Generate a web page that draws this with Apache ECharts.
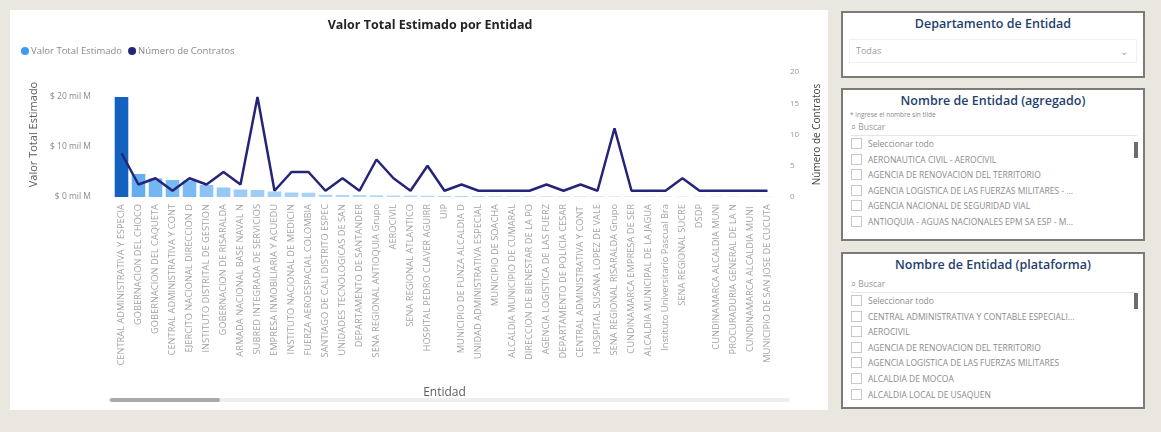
<!DOCTYPE html>
<html>
<head>
<meta charset="utf-8">
<script src="https://cdn.jsdelivr.net/npm/echarts@6/dist/echarts.min.js"></script>
<style>
  html, body { margin: 0; padding: 0; width: 1161px; height: 432px; background: #e9e7df; overflow: hidden; font-family: "Open Sans", "Noto Sans", sans-serif; }
  #card { position: absolute; left: 10px; top: 10px; width: 818px; height: 400px; background: #fff; }
  #chart { position: absolute; left: 0; top: 0; width: 830px; height: 432px; }
  .panel { position: absolute; left: 841px; width: 304px; background: #fff; border: 2px solid #7b7b78; box-sizing: border-box; }
  .ptitle { text-align: center; color: #1f3f6e; font-weight: 600; font-size: 12.5px; margin-top: 2px; }
  .drop { position: absolute; left: 6px; right: 6px; top: 26px; height: 22px; border: 1px solid #f0f0f0; font-size: 9px; color: #9a9a9a; line-height: 22px; padding-left: 6px; }
  .chev { position: absolute; right: 8px; top: 0px; font-size: 10px; color: #aaa; }
  .hint { font-size: 6.5px; color: #888; margin-left: 7px; margin-top: 1px; }
  .search { font-size: 8.5px; color: #9a9a9a; margin: 2px 6px 0 8px; padding-bottom: 2px; border-bottom: 1px solid #e6e6e6; }
  .item { font-size: 8.5px; color: #8c8c8c; height: 15.6px; line-height: 15px; margin-left: 8px; white-space: nowrap; overflow: hidden; width: 284px; }
  .cb { display: inline-block; width: 9px; height: 9px; border: 1px solid #c8c8c8; vertical-align: -2px; margin-right: 6px; }
  .sb { position: absolute; right: 5px; width: 4px; height: 16px; background: #6d6d6d; }
</style>
</head>
<body>
<div id="card"></div>
<div id="chart"></div>

<div class="panel" style="top:11px;height:67px;">
  <div class="ptitle">Departamento de Entidad</div>
  <div class="drop">Todas<span class="chev">&#8964;</span></div>
</div>

<div class="panel" style="top:88px;height:153px;">
  <div class="ptitle">Nombre de Entidad (agregado)</div>
  <div class="hint">* ingrese el nombre sin tilde</div>
  <div class="search">&#x2315; Buscar</div>
  <div class="sb" style="top:52px;"></div>
  <div id="list1"></div>
</div>

<div class="panel" style="top:252px;height:157px;">
  <div class="ptitle">Nombre de Entidad (plataforma)</div>
  <div class="search" style="margin-top:5px;">&#x2315; Buscar</div>
  <div class="sb" style="top:39px;"></div>
  <div id="list2"></div>
</div>

<script>
// ---- Data ----
const categories = [
  "CENTRAL ADMINISTRATIVA Y ESPECIA",
  "GOBERNACION DEL CHOCO",
  "GOBERNACION DEL CAQUETA",
  "CENTRAL ADMINISTRATIVA Y CONT",
  "EJERCITO NACIONAL DIRECCION D",
  "INSTITUTO DISTRITAL DE GESTION",
  "GOBERNACION DE RISARALDA",
  "ARMADA NACIONAL BASE NAVAL N",
  "SUBRED INTEGRADA DE SERVICIOS",
  "EMPRESA INMOBILIARIA Y ACUEDU",
  "INSTITUTO NACIONAL DE MEDICIN",
  "FUERZA AEROESPACIAL COLOMBIA",
  "SANTIAGO DE CALI DISTRITO ESPEC",
  "UNIDADES TECNOLOGICAS DE SAN",
  "DEPARTAMENTO DE SANTANDER",
  "SENA REGIONAL ANTIOQUIA Grupo",
  "AEROCIVIL",
  "SENA REGIONAL ATLANTICO",
  "HOSPITAL PEDRO CLAVER AGUIRR",
  "UIP",
  "MUNICIPIO DE FUNZA ALCALDIA D",
  "UNIDAD ADMINISTRATIVA ESPECIAL",
  "MUNICIPIO DE SOACHA",
  "ALCALDIA MUNICIPIO DE CUMARAL",
  "DIRECCION DE BIENESTAR DE LA PO",
  "AGENCIA LOGISTICA DE LAS FUERZ",
  "DEPARTAMENTO DE POLICIA CESAR",
  "CENTRAL ADMINISTRATIVA Y CONT ",
  "HOSPITAL SUSANA LOPEZ DE VALE",
  "SENA REGIONAL RISARALDA Grupo",
  "CUNDINAMARCA EMPRESA DE SER",
  "ALCALDIA MUNICIPAL DE LA JAGUA",
  "Instituto Universitario Pascual Bra",
  "SENA REGIONAL SUCRE",
  "DSDP",
  "CUNDINAMARCA ALCALDIA MUNI",
  "PROCURADURIA GENERAL DE LA N",
  "CUNDINAMARCA ALCALDIA MUNI ",
  "MUNICIPIO DE SAN JOSE DE CUCUTA"
];
// Valor Total Estimado, in "mil M" (thousands of millions)
const valorTotal = [
  20, 4.6, 3.7, 3.4, 3.3, 2.4, 1.9, 1.5, 1.4, 1.1,
  0.9, 0.85, 0.45, 0.42, 0.38, 0.34, 0.3, 0.27, 0.25, 0.22,
  0.2, 0.18, 0.17, 0.15, 0.14, 0.13, 0.12, 0.11, 0.1, 0.09,
  0.085, 0.08, 0.075, 0.07, 0.065, 0.06, 0.055, 0.05, 0.045
];
const numeroContratos = [
  7, 2, 3, 1, 3, 2, 4, 2, 16, 1,
  4, 4, 1, 3, 1, 6, 3, 1, 5, 1,
  2, 1, 1, 1, 1, 2, 1, 2, 1, 11,
  1, 1, 1, 3, 1, 1, 1, 1, 1
];
const leftTicks = { min: 0, max: 25, interval: 10 };
const rightTicks = { min: 0, max: 20, interval: 5 };

const slicerAgregado = [
  "Seleccionar todo",
  "AERONAUTICA CIVIL - AEROCIVIL",
  "AGENCIA DE RENOVACION DEL TERRITORIO",
  "AGENCIA LOGISTICA DE LAS FUERZAS MILITARES - ...",
  "AGENCIA NACIONAL DE SEGURIDAD VIAL",
  "ANTIOQUIA - AGUAS NACIONALES EPM SA ESP - M..."
];
const slicerPlataforma = [
  "Seleccionar todo",
  "CENTRAL ADMINISTRATIVA Y CONTABLE ESPECIALI...",
  "AEROCIVIL",
  "AGENCIA DE RENOVACION DEL TERRITORIO",
  "AGENCIA LOGISTICA DE LAS FUERZAS MILITARES",
  "ALCALDIA DE MOCOA",
  "ALCALDIA LOCAL DE USAQUEN"
];

function fillList(id, items) {
  const el = document.getElementById(id);
  items.forEach(t => {
    const d = document.createElement('div');
    d.className = 'item';
    const c = document.createElement('span'); c.className = 'cb';
    d.appendChild(c);
    d.appendChild(document.createTextNode(t));
    el.appendChild(d);
  });
}
fillList('list1', slicerAgregado);
fillList('list2', slicerPlataforma);

const chart = echarts.init(document.getElementById('chart'), null, { renderer: 'canvas' });
const FONT = '"Open Sans", "Noto Sans", sans-serif';
const gridLeft = 113, gridRight = 44, gridTop = 72, gridBottom = 235;

chart.setOption({
  animation: false,
  title: {
    text: 'Valor Total Estimado por Entidad',
    left: 425, top: 14, textAlign: 'center',
    textStyle: { fontSize: 12.5, fontWeight: 'bold', color: '#252423', fontFamily: FONT }
  },
  legend: {
    left: 16, top: 41,
    itemWidth: 8, itemHeight: 8, itemGap: 6,
    icon: 'circle',
    textStyle: { fontSize: 9.5, color: '#8a8a8a', fontFamily: FONT, padding: [0, 0, 0, -3] },
    data: [
      { name: 'Valor Total Estimado', itemStyle: { color: '#3d9bf0' } },
      { name: 'Número de Contratos', itemStyle: { color: '#262478' } }
    ]
  },
  grid: { left: gridLeft, right: gridRight, top: gridTop, bottom: gridBottom },
  visualMap: {
    show: false, seriesIndex: 0, dimension: 1,
    min: 0, max: 20,
    inRange: { color: ['#b8dbf8', '#5aaaf0', '#3d8fe2', '#2876d2', '#1462c0'] }
  },
  xAxis: {
    type: 'category', data: categories,
    name: 'Entidad', nameLocation: 'middle', nameGap: 190,
    nameTextStyle: { fontSize: 12, color: '#605e5c', fontFamily: FONT },
    axisLine: { show: false }, axisTick: { show: false },
    axisLabel: { interval: 0, rotate: 90, fontSize: 9.3, color: '#a3a3a3', fontFamily: FONT, margin: 7 }
  },
  yAxis: [
    {
      type: 'value', min: leftTicks.min, max: leftTicks.max, interval: leftTicks.interval,
      name: 'Valor Total Estimado', nameLocation: 'middle', nameRotate: 90, nameGap: 64,
      nameTextStyle: { fontSize: 11, color: '#605e5c', fontFamily: FONT },
      axisLine: { show: false }, axisTick: { show: false }, splitLine: { show: false },
      axisLabel: { showMaxLabel: false, fontSize: 8.5, color: '#8a8a8a', fontFamily: FONT, margin: 22,
        formatter: v => '$ ' + v + ' mil M' }
    },
    {
      type: 'value', min: rightTicks.min, max: rightTicks.max, interval: rightTicks.interval,
      name: 'Número de Contratos', nameLocation: 'middle', nameRotate: 90, nameGap: 36,
      nameTextStyle: { fontSize: 10, color: '#444', fontFamily: FONT },
      axisLine: { show: false }, axisTick: { show: false }, splitLine: { show: false },
      axisLabel: { fontSize: 8, color: '#9a9a9a', fontFamily: FONT, margin: 14 }
    }
  ],
  series: [
    {
      name: 'Valor Total Estimado', type: 'bar', yAxisIndex: 0,
      data: valorTotal, barCategoryGap: '20%',
      itemStyle: { color: '#3d9bf0' }
    },
    {
      name: 'Número de Contratos', type: 'line', yAxisIndex: 1,
      data: numeroContratos, showSymbol: false, symbol: 'none',
      lineStyle: { width: 2.5, color: '#262478' },
      itemStyle: { color: '#262478' }
    }
  ],
  graphic: [
    { type: 'rect', shape: { x: 108, y: 398, width: 682, height: 4, r: 2 }, style: { fill: '#eeeeee' } },
    { type: 'rect', shape: { x: 110, y: 398, width: 110, height: 4, r: 2 }, style: { fill: '#a9a9a9' } }
  ]
});
</script>
</body>
</html>
